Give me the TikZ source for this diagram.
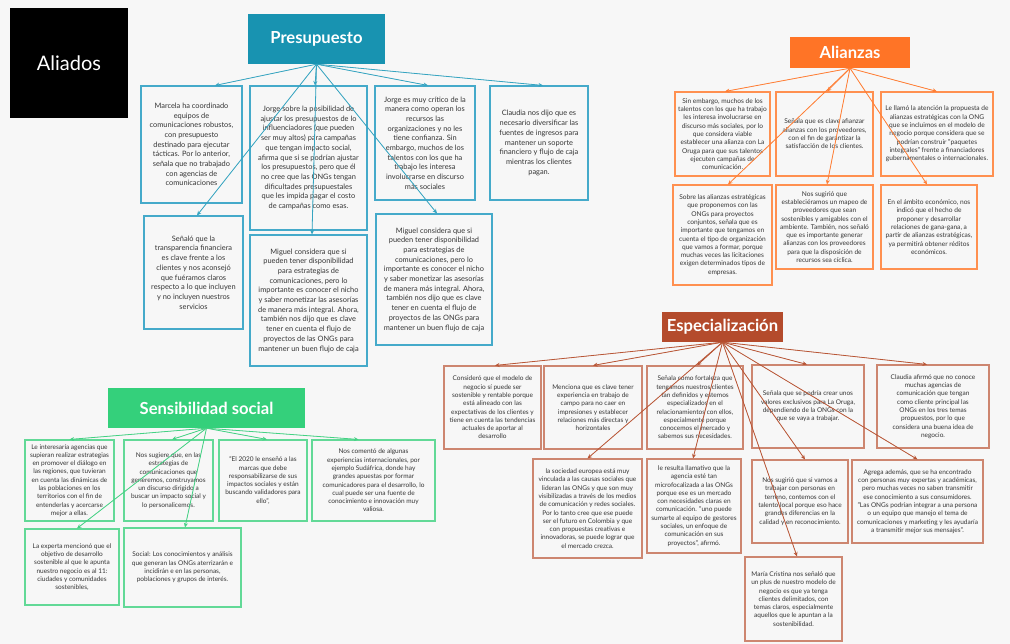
\documentclass[tikz,border=0pt]{standalone}
\usepackage{fontspec}
\setmainfont{Lato}
\usetikzlibrary{arrows.meta,calc}
\definecolor{bg}{HTML}{F7F7F7}
\definecolor{ink}{HTML}{353535}
\definecolor{tealT}{HTML}{1893B1}
\definecolor{tealB}{HTML}{45AACA}
\definecolor{tealL}{HTML}{36A4C0}
\definecolor{orT}{HTML}{FF7426}
\definecolor{orB}{HTML}{FF9050}
\definecolor{orL}{HTML}{FF7E35}
\definecolor{brT}{HTML}{B44B2C}
\definecolor{brB}{HTML}{CD8670}
\definecolor{brL}{HTML}{B85636}
\definecolor{grT}{HTML}{34D07B}
\definecolor{grB}{HTML}{62D997}
\definecolor{grL}{HTML}{45D184}
\tikzset{
  card/.style={draw, line width=1.1pt, rectangle, align=center, inner sep=0pt, text=ink},
  pbox/.style={card, draw=tealB, font=\fontsize{7.4}{9.7}\selectfont},
  abox/.style={card, draw=orB, font=\fontsize{6.6}{8.3}\selectfont},
  ebox/.style={card, draw=brB, font=\fontsize{6.5}{8.3}\selectfont},
  sbox/.style={card, draw=grB, font=\fontsize{6.5}{8.3}\selectfont},
  head/.style={rectangle, inner sep=0pt, text=white, font=\fontsize{16.6}{19}\selectfont\bfseries},
  link/.style={line width=0.8pt, -{Stealth[length=4.5pt,width=4pt]}},
  plink/.style={link, draw=tealL, fill=tealL},
  alink/.style={link, draw=orL, fill=orL},
  elink/.style={link, draw=brL, fill=brL},
  slink/.style={link, draw=grL, fill=grL}
}
\begin{document}
\begin{tikzpicture}[x=1pt,y=-1pt]
\fill[bg] (0,0) rectangle (1010,644);
\useasboundingbox (0,0) rectangle (1010,644);

% section label
\node[rectangle, fill=black, minimum width=118pt, minimum height=110pt, text=white,
      font=\fontsize{20}{24}\selectfont] (aliados) at (69,63) {Aliados};

% ---------------- Presupuesto ----------------
\node[head, fill=tealT, minimum width=137pt, minimum height=50pt] (pt) at (316.5,39) {Presupuesto};
\node[pbox, minimum width=101pt, minimum height=117pt] (p1) at (191.5,144.5)
 {Marcela ha coordinado\\equipos de\\comunicaciones robustos,\\con presupuesto\\destinado para ejecutar\\tácticas. Por lo anterior,\\señala que no trabajado\\con agencias de\\comunicaciones};
\node[pbox, minimum width=117pt, minimum height=144pt] (p2) at (308.5,158)
 {Jorge sobre la posibilidad de\\ajustar los presupuestos de lo\\influenciadores (que pueden\\ser muy altos) para campañas\\que tengan impacto social,\\afirma que si se podrían ajustar\\los presupuestos, pero que él\\no cree que las ONGs tengan\\dificultades presupuestales\\que les impida pagar el costo\\de campañas como esas.};
\node[pbox, minimum width=100pt, minimum height=114pt] (p3) at (425,143)
 {Jorge es muy crítico de la\\manera como operan los\\recursos las\\organizaciones y no les\\tiene confianza. Sin\\embargo, muchos de los\\talentos con los que ha\\trabajo les interesa\\involucrarse en discurso\\más sociales};
\node[pbox, minimum width=98pt, minimum height=114pt] (p4) at (539,143)
 {Claudia nos dijo que es\\necesario diversificar las\\fuentes de ingresos para\\mantener un soporte\\financiero y flujo de caja\\mientras los clientes\\pagan.};
\node[pbox, minimum width=99pt, minimum height=113pt] (p5) at (193.5,272.5)
 {Señaló que la\\transparencia financiera\\es clave frente a los\\clientes y nos aconsejó\\que fuéramos claros\\respecto a lo que incluyen\\y no incluyen nuestros\\servicios};
\node[pbox, minimum width=117pt, minimum height=131pt] (p6) at (308.5,300.5)
 {Miguel considera que si\\pueden tener disponibilidad\\para estrategias de\\comunicaciones, pero lo\\importante es conocer el nicho\\y saber monetizar las asesorías\\de manera más integral. Ahora,\\también nos dijo que es clave\\tener en cuenta el flujo de\\proyectos de las ONGs para\\mantener un buen flujo de caja};
\node[pbox, minimum width=116pt, minimum height=131pt] (p7) at (434,279.5)
 {Miguel considera que si\\pueden tener disponibilidad\\para estrategias de\\comunicaciones, pero lo\\importante es conocer el nicho\\y saber monetizar las asesorías\\de manera más integral. Ahora,\\también nos dijo que es clave\\tener en cuenta el flujo de\\proyectos de las ONGs para\\mantener un buen flujo de caja};

% ---------------- Alianzas ----------------
\node[head, fill=orT, minimum width=120pt, minimum height=31pt] (at) at (850,52.5) {Alianzas};
\node[abox, minimum width=95pt, minimum height=84pt] (a1) at (722.5,134)
 {Sin embargo, muchos de los\\talentos con los que ha trabajo\\les interesa involucrarse en\\discurso más sociales, por lo\\que considera viable\\establecer una alianza con La\\Oruga para que sus talentos\\ejecuten campañas de\\comunicación.};
\node[abox, minimum width=97pt, minimum height=84pt] (a2) at (824.5,134)
 {Señala que es clave afianzar\\alianzas con los proveedores,\\con el fin de garantizar la\\satisfacción de los clientes.};
\node[abox, minimum width=112pt, minimum height=84pt] (a3) at (937,134)
 {Le llamó la atención la propuesta de\\alianzas estratégicas con la ONG\\que se incluimos en el modelo de\\negocio porque considera que se\\podrían construir "paquetes\\integrales" frente a financiadores\\gubernamentales o internacionales.};
\node[abox, minimum width=99pt, minimum height=100pt] (a4) at (722.5,235)
 {Sobre las alianzas estratégicas\\que proponemos con las\\ONGs para proyectos\\conjuntos, señala que es\\importante que tengamos en\\cuenta el tipo de organización\\que vamos a formar, porque\\muchas veces las licitaciones\\exigen determinados tipos de\\empresas.};
\node[abox, minimum width=97pt, minimum height=84pt] (a5) at (824.5,227)
 {Nos sugirió que\\estableciéramos un mapeo de\\proveedores que sean\\sostenibles y amigables con el\\ambiente. También, nos señaló\\que es importante generar\\alianzas con los proveedores\\para que la disposición de\\recursos sea cíclica.};
\node[abox, minimum width=96pt, minimum height=84pt] (a6) at (929,227)
 {En el ámbito económico, nos\\indicó que el hecho de\\proponer y desarrollar\\relaciones de gana-gana, a\\partir de alianzas estratégicas,\\ya permitirá obtener réditos\\económicos.};

% ---------------- Especialización ----------------
\node[head, fill=brT, minimum width=121pt, minimum height=30pt] (et) at (722.5,327) {Especialización};
\node[ebox, minimum width=97pt, minimum height=83pt] (e1) at (492.5,407.5)
 {Consideró que el modelo de\\negocio sí puede ser\\sostenible y rentable porque\\está alineado con las\\expectativas de los clientes y\\tiene en cuenta las tendencias\\actuales de aportar al\\desarrollo};
\node[ebox, minimum width=98pt, minimum height=83pt] (e2) at (593,407.5)
 {Menciona que es clave tener\\experiencia en trabajo de\\campo para no caer en\\impresiones y establecer\\relaciones más directas y\\horizontales};
\node[ebox, minimum width=96pt, minimum height=83pt] (e3) at (695,407.5)
 {Señala como fortaleza que\\tengamos nuestros clientes\\tan definidos y estemos\\especializados en el\\relacionamientos con ellos,\\especialmente porque\\conocemos el mercado y\\sabemos sus necesidades.};
\node[ebox, minimum width=112pt, minimum height=83pt] (e4) at (808,406.5)
 {Señala que se podría crear unos\\valores exclusivos para La Oruga,\\dependiendo de la ONGs con la\\que se vaya a trabajar.};
\node[ebox, minimum width=112pt, minimum height=83pt] (e5) at (933,406.5)
 {Claudia afirmó que no conoce\\muchas agencias de\\comunicación que tengan\\como cliente principal las\\ONGs en los tres temas\\propuestos, por lo que\\considera una buena idea de\\negocio.};
\node[ebox, minimum width=109pt, minimum height=99pt] (e6) at (587.5,508.5)
 {la sociedad europea está muy\\vinculada a las causas sociales que\\lideran las ONGs y que son muy\\visibilizadas a través de los medios\\de comunicación y redes sociales.\\Por lo tanto cree que ese puede\\ser el futuro en Colombia y que\\con propuestas creativas e\\innovadoras, se puede lograr que\\el mercado crezca.};
\node[ebox, minimum width=94pt, minimum height=94pt] (e7) at (694,506)
 {le resulta llamativo que la\\agencia esté tan\\microfocalizada a las ONGs\\porque ese es un mercado\\con necesidades claras en\\comunicación. "uno puede\\sumarte al equipo de gestores\\sociales, un enfoque de\\comunicación en sus\\proyectos", afirmó.};
\node[ebox, minimum width=96pt, minimum height=83pt] (e8) at (800,501.5)
 {Nos sugirió que si vamos a\\trabajar con personas en\\terreno, contemos con el\\talento local porque eso hace\\grandes diferencias en la\\calidad y en reconocimiento.};
\node[ebox, minimum width=131pt, minimum height=83pt] (e9) at (917.5,501.5)
 {Agrega además, que se ha encontrado\\con personas muy expertas y académicas,\\pero muchas veces no saben transmitir\\ese conocimiento a sus consumidores.\\"Las ONGs podrían integrar a una persona\\o un equipo que manejo el tema de\\comunicaciones y marketing y les ayudaría\\a transmitir mejor sus mensajes".};
\node[ebox, minimum width=97pt, minimum height=84pt] (e10) at (793.5,599)
 {María Cristina nos señaló que\\un plus de nuestro modelo de\\negocio es que ya tenga\\clientes delimitados, con\\temas claros, especialmente\\aquellos que le apuntan a la\\sostenibilidad.};

% ---------------- Sensibilidad social ----------------
\node[head, fill=grT, minimum width=197pt, minimum height=40pt] (st) at (206.5,408) {Sensibilidad social};
\node[sbox, minimum width=89pt, minimum height=81pt] (s1) at (69.5,480.5)
 {Le interesaría agencias que\\supieran realizar estrategias\\en promover el diálogo en\\las regiones, que tuvieran\\en cuenta las dinámicas de\\las poblaciones en los\\territorios con el fin de\\entenderlas y acercarse\\mejor a ellas.};
\node[sbox, minimum width=89pt, minimum height=81pt] (s2) at (168.5,480.5)
 {Nos sugiere que, en las\\estrategias de\\comunicaciones que\\generemos, construyamos\\un discurso dirigido a\\buscar un impacto social y\\lo personalicemos.};
\node[sbox, minimum width=88pt, minimum height=81pt] (s3) at (263,480.5)
 {“El 2020 le enseñó a las\\marcas que debe\\responsabilizarse de sus\\impactos sociales y están\\buscando validadores para\\ello”,};
\node[sbox, minimum width=123pt, minimum height=81pt] (s4) at (373.5,480.5)
 {Nos comentó de algunas\\experiencias internacionales, por\\ejemplo Sudáfrica, donde hay\\grandes apuestas por formar\\comunicadores para el desarrollo, lo\\cual puede ser una fuente de\\conocimiento e innovación muy\\valiosa.};
\node[sbox, minimum width=94pt, minimum height=76pt] (s5) at (72,567)
 {La experta mencionó que el\\objetivo de desarrollo\\sostenible al que le apunta\\nuestro negocio es al 11:\\ciudades y comunidades\\sostenibles,};
\node[sbox, minimum width=117pt, minimum height=79pt] (s6) at (182.5,567.5)
 {Social: Los conocimientos y análisis\\que generan las ONGs aterrizarán e\\incidirán e en las personas,\\poblaciones y grupos de interés.};

% ---------------- connectors ----------------
\draw[plink] (pt.south) -- ([xshift=23.5pt]p1.north);
\draw[plink] (pt.south) -- ([xshift=6.5pt]p2.north);
\draw[plink] (pt.south) -- ([xshift=3pt]p3.north);
\draw[plink] (pt.south) -- ([xshift=4pt]p4.north);
\draw[plink] (pt.south) -- ([xshift=3.5pt]p5.north);
\draw[plink] (pt.south) -- ([xshift=3.5pt]p6.north);
\draw[plink] (pt.south) -- ([xshift=3pt]p7.north);

\draw[alink] (at.south) -- ([xshift=2.5pt]a1.north);
\draw[alink] (at.south) -- ([xshift=2.5pt]a2.north);
\draw[alink] (at.south) -- (a3.north);
\draw[alink] (at.south) -- ([xshift=5.5pt]a4.north);
\draw[alink] (at.south) -- ([xshift=2.5pt]a5.north);
\draw[alink] (at.south) -- ([xshift=-2pt]a6.north);

\draw[elink] (et.south) -- ([xshift=2.5pt]e1.north);
\draw[elink] (et.south) -- (e2.north);
\draw[elink] (et.south) -- ([xshift=2pt]e3.north);
\draw[elink] (et.south) -- ([xshift=-1pt]e4.north);
\draw[elink] (et.south) -- ([xshift=-6pt]e5.north);
\draw[elink] (et.south) -- (e6.north);
\draw[elink] (et.south) -- ([xshift=-1pt]e7.north);
\draw[elink] (et.south) -- ([xshift=5pt]e8.north);
\draw[elink] (et.south) -- (e9.north);
\draw[elink] (et.south) -- ([xshift=3.5pt]e10.north);

\draw[slink] (st.south) -- (s1.north);
\draw[slink] (st.south) -- ([xshift=3.5pt]s2.north);
\draw[slink] (st.south) -- ([xshift=4pt]s3.north);
\draw[slink] (st.south) -- ([xshift=-15pt]s4.north);
\draw[slink] (st.south) -- ([xshift=5pt]s5.north);
\draw[slink] (st.south) -- ([xshift=2.5pt]s6.north);
\end{tikzpicture}
\end{document}
